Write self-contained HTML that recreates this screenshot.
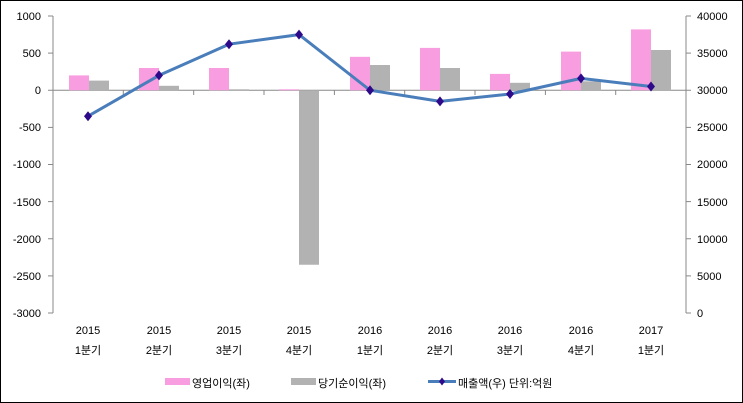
<!DOCTYPE html>
<html><head><meta charset="utf-8"><style>
html,body{margin:0;padding:0;background:#fff}
svg{display:block}
text{font-family:"Liberation Sans","Noto Sans CJK KR",sans-serif;font-size:11px;fill:#000}
</style></head><body>
<svg width="743" height="403" viewBox="0 0 743 403" xmlns="http://www.w3.org/2000/svg">
<rect x="0.5" y="0.5" width="742" height="402" fill="#fff" stroke="#000"/>
<line x1="53" y1="16" x2="53" y2="313" stroke="#888"/>
<line x1="686" y1="16" x2="686" y2="313" stroke="#888"/>
<line x1="53" y1="90.25" x2="686" y2="90.25" stroke="#888"/>
<g stroke="#888">
<line x1="48" y1="16" x2="53" y2="16"/><line x1="48" y1="53.1" x2="53" y2="53.1"/><line x1="48" y1="90.25" x2="53" y2="90.25"/><line x1="48" y1="127.4" x2="53" y2="127.4"/><line x1="48" y1="164.5" x2="53" y2="164.5"/><line x1="48" y1="201.6" x2="53" y2="201.6"/><line x1="48" y1="238.75" x2="53" y2="238.75"/><line x1="48" y1="275.9" x2="53" y2="275.9"/><line x1="48" y1="313" x2="53" y2="313"/>
<line x1="686" y1="16" x2="691" y2="16"/><line x1="686" y1="53.1" x2="691" y2="53.1"/><line x1="686" y1="90.25" x2="691" y2="90.25"/><line x1="686" y1="127.4" x2="691" y2="127.4"/><line x1="686" y1="164.5" x2="691" y2="164.5"/><line x1="686" y1="201.6" x2="691" y2="201.6"/><line x1="686" y1="238.75" x2="691" y2="238.75"/><line x1="686" y1="275.9" x2="691" y2="275.9"/><line x1="686" y1="313" x2="691" y2="313"/>
<line x1="123.3" y1="90" x2="123.3" y2="95"/><line x1="193.7" y1="90" x2="193.7" y2="95"/><line x1="264" y1="90" x2="264" y2="95"/><line x1="334.4" y1="90" x2="334.4" y2="95"/><line x1="404.7" y1="90" x2="404.7" y2="95"/><line x1="475" y1="90" x2="475" y2="95"/><line x1="545.4" y1="90" x2="545.4" y2="95"/><line x1="615.7" y1="90" x2="615.7" y2="95"/>
</g>
<g fill="#f79de0">
<rect x="69" y="75.4" width="20" height="14.85"/>
<rect x="139" y="68" width="20" height="22.25"/>
<rect x="209" y="68" width="20" height="22.25"/>
<rect x="279" y="89.3" width="20" height="1"/>
<rect x="350" y="56.8" width="20" height="33.45"/>
<rect x="420" y="47.9" width="20" height="42.35"/>
<rect x="490" y="73.9" width="20" height="16.35"/>
<rect x="561" y="51.6" width="20" height="38.65"/>
<rect x="631" y="29.4" width="20" height="60.85"/>
</g>
<g fill="#b2b2b2">
<rect x="89" y="80.6" width="20" height="9.65"/>
<rect x="159" y="85.8" width="20" height="4.45"/>
<rect x="229" y="89.3" width="20" height="1"/>
<rect x="299" y="90.25" width="20" height="174.5"/>
<rect x="370" y="65" width="20" height="25.25"/>
<rect x="440" y="68" width="20" height="22.25"/>
<rect x="510" y="82.8" width="20" height="7.45"/>
<rect x="581" y="81.3" width="20" height="8.95"/>
<rect x="651" y="50" width="20" height="40.25"/>
</g>
<polyline points="88,116.2 159,75.4 229,44.2 299,34.6 370,90.25 440,101.4 510,94 581,78.4 651,86.5" fill="none" stroke="#4a7ebb" stroke-width="3" stroke-linejoin="round"/>
<g fill="#2e0a8a">
<path d="M88,111.2 l4,5 l-4,5 l-4,-5z"/><path d="M159,70.4 l4,5 l-4,5 l-4,-5z"/><path d="M229,39.2 l4,5 l-4,5 l-4,-5z"/><path d="M299,29.6 l4,5 l-4,5 l-4,-5z"/><path d="M370,85.25 l4,5 l-4,5 l-4,-5z"/><path d="M440,96.4 l4,5 l-4,5 l-4,-5z"/><path d="M510,89 l4,5 l-4,5 l-4,-5z"/><path d="M581,73.4 l4,5 l-4,5 l-4,-5z"/><path d="M651,81.5 l4,5 l-4,5 l-4,-5z"/>
</g>
<g text-anchor="end">
<text x="41" y="20">1000</text><text x="41" y="57">500</text><text x="41" y="94">0</text><text x="41" y="131">-500</text><text x="41" y="168">-1000</text><text x="41" y="206">-1500</text><text x="41" y="243">-2000</text><text x="41" y="280">-2500</text><text x="41" y="317">-3000</text>
</g>
<g text-anchor="start">
<text x="697" y="20">40000</text><text x="697" y="57">35000</text><text x="697" y="94">30000</text><text x="697" y="131">25000</text><text x="697" y="168">20000</text><text x="697" y="206">15000</text><text x="697" y="243">10000</text><text x="697" y="280">5000</text><text x="697" y="317">0</text>
</g>
<g text-anchor="middle">
<text x="88" y="334">2015</text><text x="159" y="334">2015</text><text x="229" y="334">2015</text><text x="299" y="334">2015</text><text x="370" y="334">2016</text><text x="440" y="334">2016</text><text x="510" y="334">2016</text><text x="581" y="334">2016</text><text x="651" y="334">2017</text>
<g style="font-size:12px">
<text x="88" y="354">1분기</text><text x="159" y="354">2분기</text><text x="229" y="354">3분기</text><text x="299" y="354">4분기</text><text x="370" y="354">1분기</text><text x="440" y="354">2분기</text><text x="510" y="354">3분기</text><text x="581" y="354">4분기</text><text x="651" y="354">1분기</text>
</g>
</g>
<g style="font-size:12px">
<rect x="165" y="378" width="25" height="7" fill="#f79de0"/>
<text x="192" y="387">영업이익(좌)</text>
<rect x="291" y="378" width="25" height="7" fill="#b2b2b2"/>
<text x="318" y="387">당기순이익(좌)</text>
<line x1="428" y1="381.5" x2="456" y2="381.5" stroke="#4a7ebb" stroke-width="3"/>
<path d="M442,377.5 l3,4 l-3,4 l-3,-4z" fill="#2e0a8a"/>
<text x="458" y="387">매출액(우)  단위:억원</text>
</g>
</svg>
</body></html>
